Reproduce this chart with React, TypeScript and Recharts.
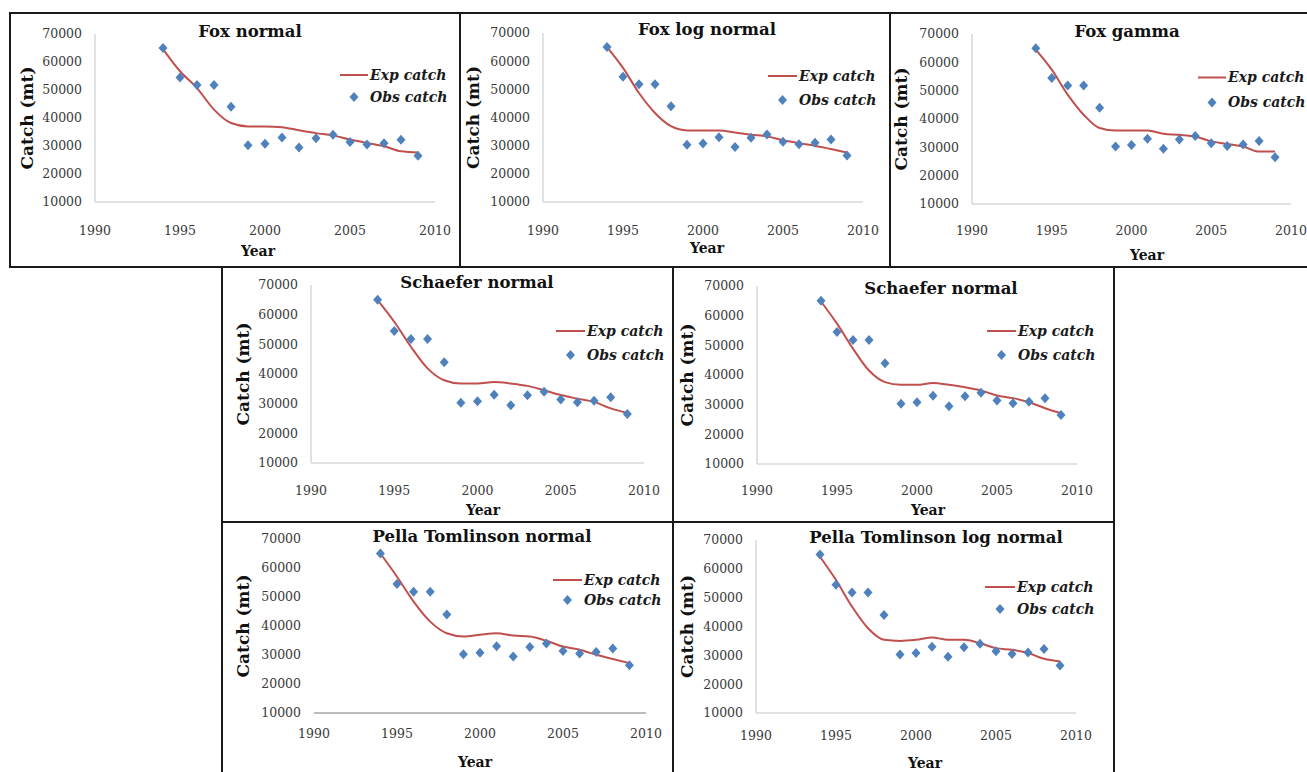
import React from 'react'
import { ComposedChart, XAxis, YAxis, Line, Scatter, Legend } from 'recharts'

const years = [1994, 1995, 1996, 1997, 1998, 1999, 2000, 2001, 2002, 2003, 2004, 2005, 2006, 2007, 2008, 2009]
const obsCatch = [65000, 54500, 51800, 51800, 44000, 30300, 30800, 33000, 29500, 32800, 34000, 31400, 30500, 31000, 32200, 26500]

const expFoxNormal = [64600, 56700, 50700, 43000, 38200, 37000, 37000, 36700, 35600, 34600, 33800, 32300, 31100, 29900, 28100, 27700]
const expFoxLogNormal = [65000, 57600, 48700, 41600, 36900, 35400, 35400, 35400, 34700, 33900, 33300, 31900, 30900, 30000, 28800, 27600]
const expFoxGamma = [64500, 57400, 48600, 41500, 36800, 35900, 35900, 35900, 34800, 34400, 33800, 32100, 31200, 30300, 28500, 28500]
const expSchaeferA = [64900, 57600, 49200, 41900, 37900, 36800, 36800, 37300, 36800, 36000, 34500, 32900, 31700, 30600, 28400, 26900]
const expSchaeferB = [64800, 57300, 48900, 41500, 37600, 36700, 36700, 37300, 36700, 35900, 34800, 33100, 32200, 30800, 28800, 27100]
const expPellaNormal = [65000, 57000, 48400, 41500, 37500, 36400, 37000, 37500, 36700, 36400, 34900, 32900, 31800, 30100, 28600, 27200]
const expPellaLogNormal = [64200, 56100, 46900, 39400, 35400, 35000, 35400, 36200, 35400, 35400, 34200, 32500, 31900, 30800, 28800, 27900]

const xTicks = [1990, 1995, 2000, 2005, 2010]
const yTicks = [10000, 20000, 30000, 40000, 50000, 60000, 70000]

const FONT = '"DejaVu Serif", "Liberation Serif", serif'
const EXP_COLOR = '#C0504D'
const OBS_COLOR = '#4F81BD'

// panel geometry, all relative to the panel box
const panels = [
  { title: 'Fox normal', exp: expFoxNormal, box: [10, 13, 450, 254], plot: [85, 425, 21, 189], titlePos: [240, 19], legend: [330, 62, 22, 28], yearPos: [248, 238], catchX: 17, tickY: 217 },
  { title: 'Fox log normal', exp: expFoxLogNormal, box: [460, 13, 430, 254], plot: [83, 403, 20, 189], titlePos: [247, 17], legend: [308, 63, 24, 29], yearPos: [247, 235], catchX: 13, tickY: 217 },
  { title: 'Fox gamma', exp: expFoxGamma, box: [890, 13, 417, 254], plot: [82, 401, 21, 191], titlePos: [237, 19], legend: [308, 64, 25, 28], yearPos: [257, 242], catchX: 11, tickY: 217 },
  { title: 'Schaefer normal', exp: expSchaeferA, box: [222, 267, 451, 255], plot: [89, 422, 18, 196], titlePos: [255, 16], legend: [334, 64, 24, 29], yearPos: [261, 243], catchX: 21, tickY: 223 },
  { title: 'Schaefer normal', exp: expSchaeferB, box: [673, 267, 441, 255], plot: [84, 404, 19, 197], titlePos: [268, 22], legend: [314, 64, 24, 29], yearPos: [255, 243], catchX: 14, tickY: 223 },
  { title: 'Pella Tomlinson normal', exp: expPellaNormal, box: [222, 522, 451, 250], plot: [92, 424, 17, 191], titlePos: [260, 15], legend: [331, 58, 20, 29], yearPos: [253, 240], catchX: 21, tickY: 211, noYLine: true, xLine: '#a6a6a6' },
  { title: 'Pella Tomlinson log normal', exp: expPellaLogNormal, box: [673, 522, 441, 250], plot: [83, 403, 18, 191], titlePos: [263, 16], legend: [312, 65, 22, 30], yearPos: [252, 241], catchX: 14, tickY: 213 },
]

const Diamond = (props: any) => {
  const { cx, cy } = props
  if (cx == null || cy == null) return null
  return <path d={`M${cx},${cy - 5}L${cx + 4.5},${cy}L${cx},${cy + 5}L${cx - 4.5},${cy}Z`} fill={OBS_COLOR} />
}

function Panel({ p }: { p: any }) {
  const [bx, by, w, h] = p.box
  const [pl, pr, pt, pb] = p.plot
  const [lx, ly, gap, len] = p.legend
  const data = years.map((year, i) => ({ year, exp: p.exp[i], obs: obsCatch[i] }))
  const midY = (pt + pb) / 2

  const renderLegend = (props: any) => {
    const items = props.payload || []
    return (
      <div style={{ fontFamily: FONT, fontSize: 14, fontWeight: 'bold', fontStyle: 'italic', color: '#1a1a1a' }}>
        {items.map((it: any) => (
          <div key={it.value} style={{ display: 'flex', alignItems: 'center', height: gap, whiteSpace: 'nowrap' }}>
            <svg width={len} height={gap} style={{ display: 'block' }}>
              {it.type === 'line' ? (
                <line x1={0} x2={len} y1={gap / 2} y2={gap / 2} stroke={EXP_COLOR} strokeWidth={2} />
              ) : (
                <Diamond cx={len / 2} cy={gap / 2} />
              )}
            </svg>
            <span style={{ marginLeft: 2 }}>{it.value}</span>
          </div>
        ))}
      </div>
    )
  }

  return (
    <div style={{ position: 'absolute', left: bx, top: by, width: w, height: h }}>
      <div
        style={{
          position: 'absolute', left: p.titlePos[0] - 200, top: p.titlePos[1] - 11, width: 400, lineHeight: '22px',
          textAlign: 'center', fontFamily: FONT, fontWeight: 'bold', fontSize: 16.5, color: '#111',
        }}
      >
        {p.title}
      </div>
      <ComposedChart width={w} height={h} data={data} margin={{ top: pt, right: w - pr, bottom: h - pb - 30, left: 0 }}>
        <XAxis
          type="number"
          dataKey="year"
          domain={[1990, 2010]}
          ticks={xTicks}
          interval={0}
          height={30}
          tickLine={false}
          tickSize={0}
          tickMargin={p.tickY - pb - 4}
          axisLine={{ stroke: p.xLine || '#d9d9d9', strokeWidth: 1.5 }}
          tick={{ fontSize: 12.5, fill: '#3a3a3a', fontFamily: FONT }}
          label={{
            content: () => (
              <text x={p.yearPos[0]} y={p.yearPos[1]} textAnchor="middle" dominantBaseline="central"
                fontFamily={FONT} fontWeight="bold" fontSize={14} fill="#111">Year</text>
            ),
          }}
        />
        <YAxis
          type="number"
          domain={[10000, 70000]}
          ticks={yTicks}
          interval={0}
          width={pl}
          tickLine={false}
          tickSize={0}
          tickMargin={13}
          axisLine={p.noYLine ? false : { stroke: '#d9d9d9', strokeWidth: 1.5 }}
          tick={{ fontSize: 12.5, fill: '#3a3a3a', fontFamily: FONT }}
          label={{
            content: () => (
              <text x={p.catchX} y={midY} transform={`rotate(-90 ${p.catchX} ${midY})`} textAnchor="middle"
                dominantBaseline="central" fontFamily={FONT} fontWeight="bold" fontSize={17} fill="#111">Catch (mt)</text>
            ),
          }}
        />
        <Line dataKey="exp" name="Exp catch" type="monotone" stroke={EXP_COLOR} strokeWidth={2} dot={false}
          legendType="line" isAnimationActive={false} />
        <Scatter dataKey="obs" name="Obs catch" fill={OBS_COLOR} shape={<Diamond />} legendType="diamond"
          isAnimationActive={false} />
        <Legend layout="vertical" align="center" verticalAlign="middle" content={renderLegend}
          wrapperStyle={{ left: lx, top: ly - gap / 2, width: 'auto', height: 'auto' }} />
      </ComposedChart>
    </div>
  )
}

const B = '#1a1a1a'
// table rules between panels: [x, y, w, h]
const rules = [
  [10, 12, 1297, 2], [10, 266, 1297, 2], [221, 521, 893, 2],
  [9, 12, 2, 256], [459, 12, 2, 256], [889, 12, 2, 256],
  [221, 266, 2, 506], [672, 266, 2, 506], [1113, 266, 2, 506],
]

export default function App() {
  return (
    <div style={{ position: 'absolute', left: 0, top: 0, width: 1307, height: 772, background: '#fff', overflow: 'hidden' }}>
      {panels.map((p, i) => (
        <Panel key={i} p={p} />
      ))}
      {rules.map((r, i) => (
        <div key={i} style={{ position: 'absolute', left: r[0], top: r[1], width: r[2], height: r[3], background: B }} />
      ))}
    </div>
  )
}
